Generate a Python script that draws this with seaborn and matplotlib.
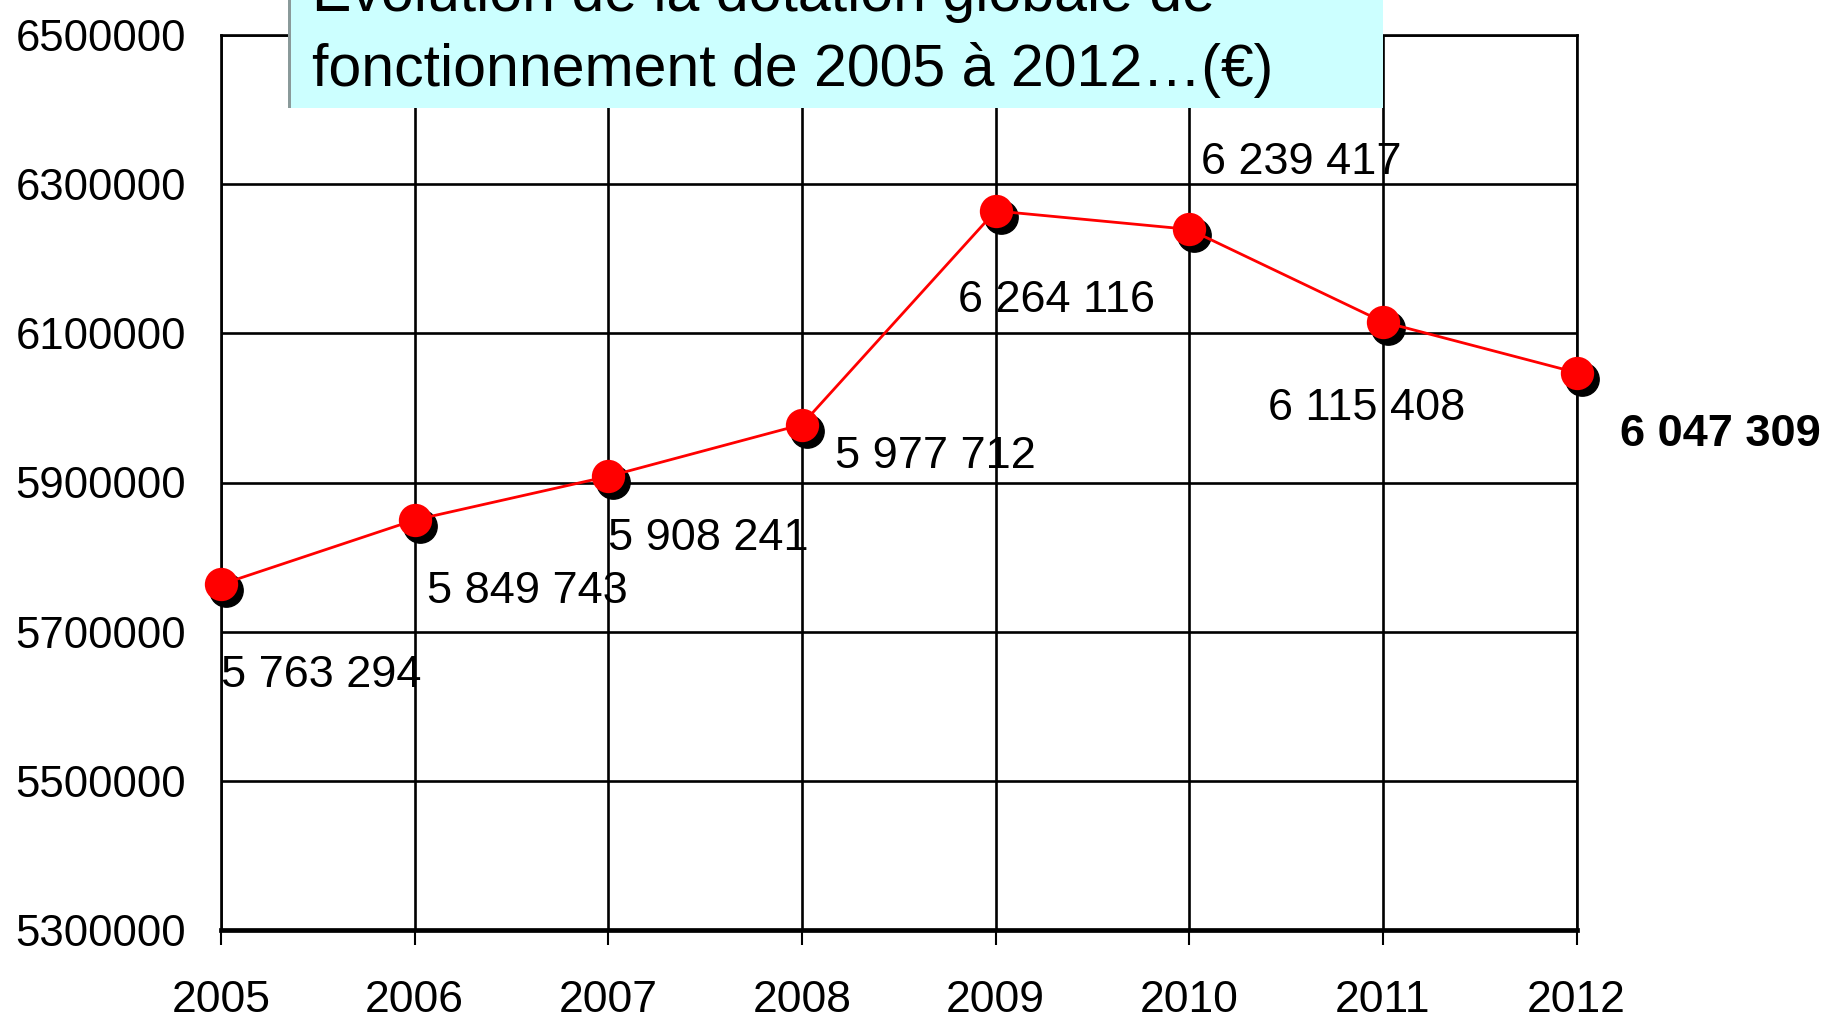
import matplotlib
matplotlib.use("Agg")
import matplotlib.pyplot as plt
import matplotlib.transforms as mtransforms
from matplotlib.patches import Rectangle
import seaborn as sns
import pandas as pd

years = [2005, 2006, 2007, 2008, 2009, 2010, 2011, 2012]
values = [5763294, 5849743, 5908241, 5977712, 6264116, 6239417, 6115408, 6047309]
labels = ["5 763 294", "5 849 743", "5 908 241", "5 977 712",
          "6 264 116", "6 239 417", "6 115 408", "6 047 309"]
yticks = [5300000, 5500000, 5700000, 5900000, 6100000, 6300000, 6500000]
title_lines = ["Évolution de la dotation globale de",
               "fonctionnement de 2005 à 2012…(€)"]

# label offsets in pixels (dx, dy)
offsets = [(0, -91), (12, -72), (0, -62), (33, -32),
           (-38, -90), (12, 67), (-115, -87), (43, -62)]

sns.set_theme(style="white")
plt.rcParams['font.family'] = ['Liberation Sans', 'DejaVu Sans']

W, H = 1823, 1019
fig = plt.figure(figsize=(W / 100, H / 100), dpi=100)
ax = fig.add_axes([221 / W, 1 - 930 / H, (1576.5 - 221) / W, (930 - 35) / H])

df = pd.DataFrame({"year": years, "value": values})

# shadow markers
shadow = mtransforms.offset_copy(ax.transData, fig=fig, x=5, y=-6, units='dots')
ax.plot(df["year"], df["value"], linestyle='none', marker='o', markersize=24,
        color='black', transform=shadow, zorder=4, clip_on=False)

sns.lineplot(data=df, x="year", y="value", ax=ax, color='#ff0000', linewidth=2.0,
             marker='o', markersize=24, markeredgewidth=0, markerfacecolor='#ff0000',
             zorder=5, clip_on=False)

ax.set_xlim(2005, 2012)
ax.set_ylim(5300000, 6500000)
ax.set_xticks(years)
ax.set_xticklabels([str(y) for y in years])
ax.set_yticks(yticks)
ax.set_yticklabels([str(v) for v in yticks])
ax.set_xlabel("")
ax.set_ylabel("")

ax.grid(True, color='black', linewidth=1.9)
ax.set_axisbelow(True)
for s in ['top', 'right', 'left']:
    ax.spines[s].set_color('black')
    ax.spines[s].set_linewidth(1.9)
ax.spines['bottom'].set_color('black')
ax.spines['bottom'].set_linewidth(3.4)

ax.tick_params(axis='x', which='both', direction='out', length=11, width=1.5,
               color='black', pad=25, labelsize=32, labelcolor='black', bottom=True)
ax.tick_params(axis='y', which='both', length=0, pad=25, labelsize=31.5,
               labelcolor='black', left=False)

for i, (x, y, lab) in enumerate(zip(years, values, labels)):
    dx, dy = offsets[i]
    ax.annotate(lab, xy=(x, y), xytext=(dx, dy), textcoords='offset pixels',
                ha='left', va='center', fontsize=32.5, color='black',
                fontweight='bold' if i == len(years) - 1 else 'normal',
                zorder=6, annotation_clip=False)

# title box
fig.patches.append(Rectangle((288 / W, 1 - 108 / H), 6 / W, 120 / H,
                             transform=fig.transFigure, facecolor='#8a9a9a',
                             edgecolor='none', zorder=9))
fig.patches.append(Rectangle((291 / W, 1 - 108 / H), (1383 - 291) / W, 120 / H,
                             transform=fig.transFigure, facecolor='#ccffff',
                             edgecolor='none', zorder=10))
fig.text(312 / W, 1 - 11 / H, title_lines[0], ha='left', va='baseline',
         fontsize=42.5, color='black', zorder=11)
fig.text(312 / W, 1 - 86 / H, title_lines[1], ha='left', va='baseline',
         fontsize=42.5, color='black', zorder=11)

fig.savefig("out.png", dpi=100, facecolor='white')
